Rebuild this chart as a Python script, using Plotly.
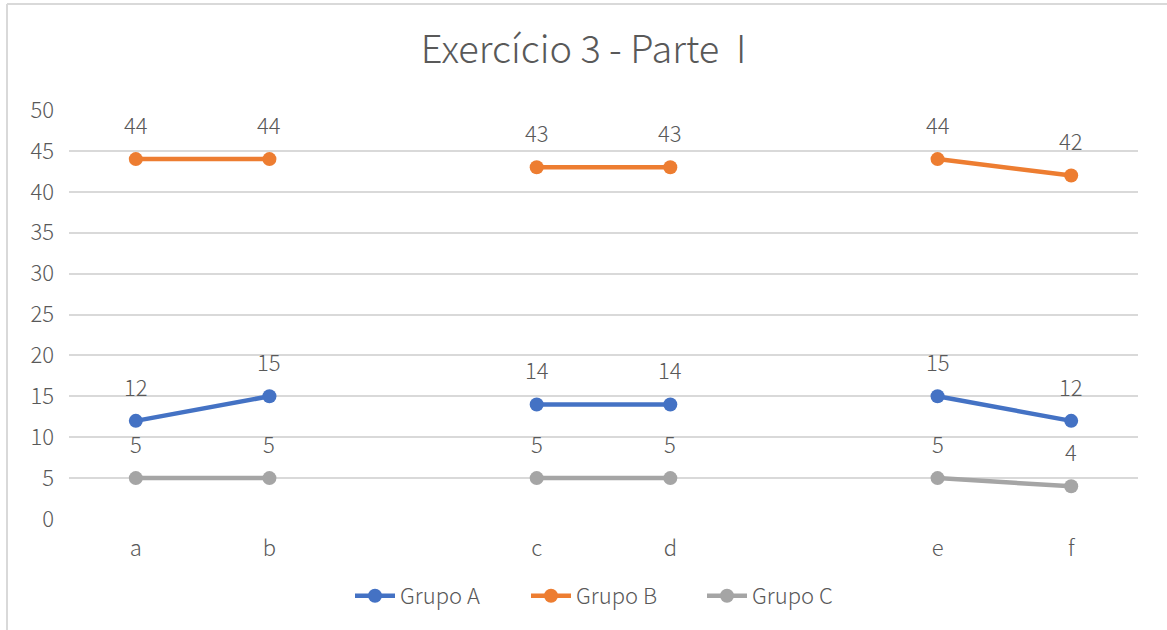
import plotly.graph_objects as go

# Category slots: empty slots separate the three pairs
categories = ["a", "b", "", "c", "d", "", "e", "f"]
grupo_a = [12, 15, None, 14, 14, None, 15, 12]
grupo_b = [44, 44, None, 43, 43, None, 44, 42]
grupo_c = [5, 5, None, 5, 5, None, 5, 4]
y_ticks = [0, 5, 10, 15, 20, 25, 30, 35, 40, 45, 50]

series = [
    ("Grupo A", grupo_a, "#4472C4"),
    ("Grupo B", grupo_b, "#ED7D31"),
    ("Grupo C", grupo_c, "#A5A5A5"),
]

FONT = "Noto Sans CJK SC, Noto Sans, sans-serif"
GREY = "#595959"
W, H = 1167, 630
ML, MR, MT, MB = 69, 29, 110, 111

x = list(range(len(categories)))

fig = go.Figure()
annotations = []
for name, vals, color in series:
    fig.add_trace(go.Scatter(
        x=x, y=vals, name=name, mode="lines+markers",
        connectgaps=False,
        line=dict(color=color, width=4.5),
        marker=dict(color=color, size=14),
    ))
    for xi, v in zip(x, vals):
        if v is None:
            continue
        annotations.append(dict(
            x=xi, y=v, xref="x", yref="y", text=str(v), showarrow=False,
            yshift=35, font=dict(family=FONT, size=22, color=GREY, weight=300),
        ))

# Chart-area border (left and top edges)
pw = W - ML - MR
ph = H - MT - MB
bx = (7 - ML) / pw
by = (H - MB - 4) / ph
shapes = [
    dict(type="line", xref="paper", yref="paper", x0=bx, x1=bx, y0=(MB - H) / ph, y1=by,
         line=dict(color="#D9D9D9", width=2), layer="below"),
    dict(type="line", xref="paper", yref="paper", x0=bx, x1=(W - ML + 10) / pw, y0=by, y1=by,
         line=dict(color="#D9D9D9", width=2), layer="below"),
]

fig.update_layout(
    width=W, height=H,
    margin=dict(l=ML, r=MR, t=MT, b=MB),
    paper_bgcolor="white", plot_bgcolor="white",
    font=dict(family=FONT, color=GREY),
    title=dict(text="Exercício 3 - Parte  I", x=0.5, xanchor="center",
               y=1 - 50 / H, yanchor="middle",
               font=dict(family=FONT, size=38, color=GREY, weight=300)),
    xaxis=dict(
        range=[-0.5, len(categories) - 0.5],
        tickvals=x, ticktext=categories,
        showgrid=False, zeroline=False, showline=False,
        ticks="", tickfont=dict(size=22, color=GREY, weight=300),
        ticklabelstandoff=14,
    ),
    yaxis=dict(
        range=[0, 50], tickvals=y_ticks,
        showgrid=True, gridcolor="#D9D9D9", gridwidth=1.5,
        zeroline=False, showline=False, ticks="",
        tickfont=dict(size=22, color=GREY, weight=300),
        ticklabelstandoff=14,
    ),
    legend=dict(orientation="h", x=(350 - ML) / pw, xanchor="left",
                y=-(596 - (H - MB)) / ph, yanchor="middle",
                font=dict(size=22, color=GREY, weight=300),
                entrywidth=121, entrywidthmode="pixels", itemwidth=40),
    annotations=annotations,
    shapes=shapes,
    showlegend=True,
)

fig.write_html("out.html")
